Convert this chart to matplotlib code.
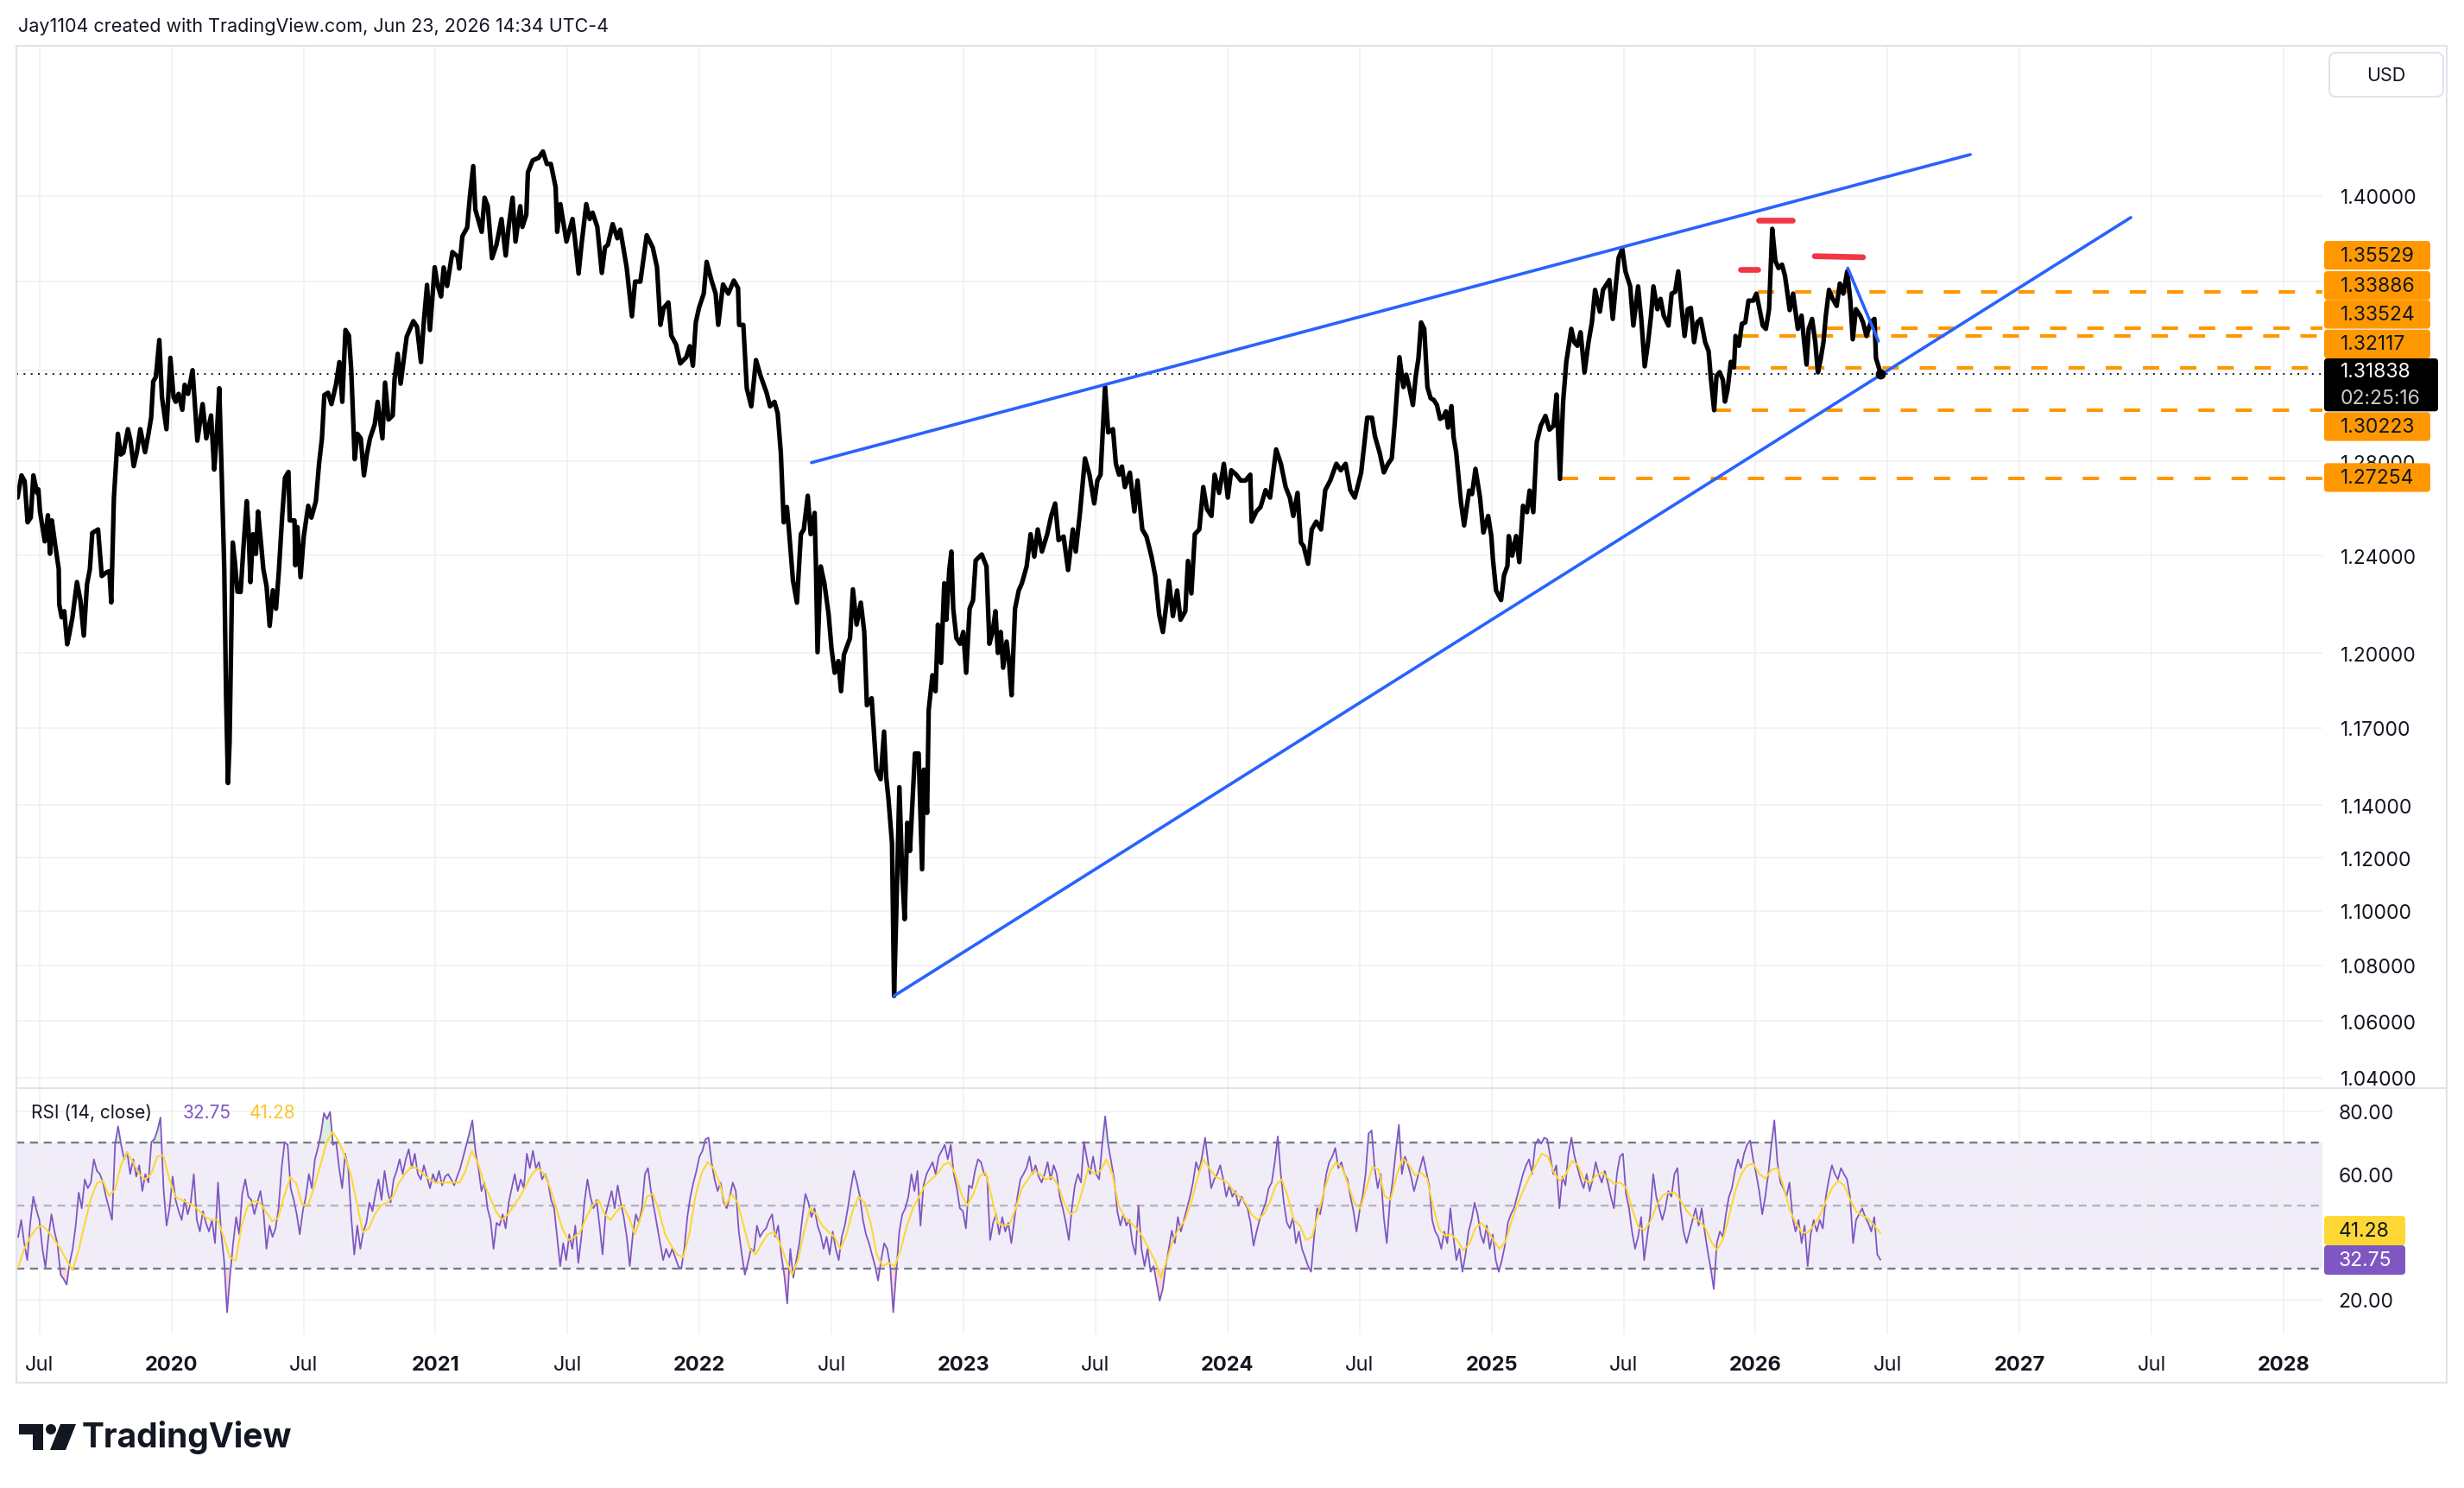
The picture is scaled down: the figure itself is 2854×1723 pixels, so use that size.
import matplotlib
matplotlib.use("Agg")
import matplotlib.pyplot as plt
from matplotlib.patches import FancyBboxPatch, Polygon, Circle, Rectangle
from matplotlib.lines import Line2D
from matplotlib.transforms import IdentityTransform
from matplotlib.ticker import FixedLocator, FixedFormatter, NullLocator, NullFormatter
import numpy as np

plt.rcParams['font.family'] = ['Inter', 'DejaVu Sans']

W, H = 2854, 1724

# ---------------------------------------------------------------------------
# Data (time in decimal years)
# ---------------------------------------------------------------------------
price_t = [
    2019.417, 2019.432, 2019.444, 2019.455, 2019.467, 2019.477, 2019.491, 2019.496, 2019.502, 2019.520,
    2019.532, 2019.540, 2019.547, 2019.559, 2019.573, 2019.575, 2019.584, 2019.594, 2019.605, 2019.612,
    2019.625, 2019.642, 2019.655, 2019.668, 2019.680, 2019.691, 2019.700, 2019.722, 2019.736, 2019.753,
    2019.765, 2019.772, 2019.782, 2019.797, 2019.808, 2019.818, 2019.835, 2019.845, 2019.857, 2019.869,
    2019.882, 2019.900, 2019.913, 2019.923, 2019.931, 2019.941, 2019.954, 2019.964, 2019.981, 2019.996,
    2020.008, 2020.016, 2020.027, 2020.041, 2020.050, 2020.063, 2020.080, 2020.090, 2020.098, 2020.118,
    2020.132, 2020.150, 2020.162, 2020.171, 2020.181, 2020.191, 2020.200, 2020.207, 2020.214, 2020.220,
    2020.232, 2020.240, 2020.250, 2020.262, 2020.273, 2020.285, 2020.292, 2020.299, 2020.309, 2020.320,
    2020.328, 2020.338, 2020.348, 2020.360, 2020.372, 2020.384, 2020.396, 2020.407, 2020.419, 2020.430,
    2020.443, 2020.448, 2020.466, 2020.469, 2020.477, 2020.489, 2020.501, 2020.518, 2020.530, 2020.547,
    2020.559, 2020.570, 2020.579, 2020.593, 2020.606, 2020.623, 2020.636, 2020.647, 2020.659, 2020.672,
    2020.681, 2020.694, 2020.704, 2020.717, 2020.729, 2020.740, 2020.752, 2020.770, 2020.781, 2020.799,
    2020.809, 2020.822, 2020.838, 2020.845, 2020.857, 2020.868, 2020.891, 2020.916, 2020.930, 2020.945,
    2020.956, 2020.968, 2020.979, 2020.997, 2021.008, 2021.021, 2021.031, 2021.044, 2021.064, 2021.084,
    2021.090, 2021.102, 2021.120, 2021.131, 2021.143, 2021.151, 2021.175, 2021.186, 2021.198, 2021.214,
    2021.231, 2021.250, 2021.266, 2021.277, 2021.292, 2021.303, 2021.321, 2021.329, 2021.344, 2021.350,
    2021.368, 2021.391, 2021.407, 2021.422, 2021.437, 2021.455, 2021.461, 2021.473, 2021.496, 2021.519,
    2021.528, 2021.542, 2021.553, 2021.571, 2021.584, 2021.595, 2021.613, 2021.630, 2021.642, 2021.653,
    2021.671, 2021.689, 2021.700, 2021.724, 2021.744, 2021.756, 2021.776, 2021.800, 2021.823, 2021.839,
    2021.852, 2021.864, 2021.882, 2021.893, 2021.911, 2021.927, 2021.950, 2021.963, 2021.975, 2021.986,
    2021.998, 2022.016, 2022.027, 2022.045, 2022.061, 2022.071, 2022.089, 2022.109, 2022.130, 2022.146,
    2022.150, 2022.166, 2022.179, 2022.196, 2022.214, 2022.231, 2022.254, 2022.267, 2022.284, 2022.296,
    2022.308, 2022.319, 2022.331, 2022.340, 2022.354, 2022.369, 2022.384, 2022.395, 2022.410, 2022.421,
    2022.436, 2022.441, 2022.447, 2022.459, 2022.473, 2022.489, 2022.500, 2022.512, 2022.526, 2022.536,
    2022.547, 2022.570, 2022.581, 2022.595, 2022.611, 2022.624, 2022.634, 2022.652, 2022.670, 2022.686,
    2022.699, 2022.707, 2022.716, 2022.729, 2022.737, 2022.745, 2022.757, 2022.768, 2022.777, 2022.787,
    2022.797, 2022.816, 2022.830, 2022.843, 2022.850, 2022.862, 2022.868, 2022.882, 2022.894, 2022.903,
    2022.915, 2022.927, 2022.935, 2022.946, 2022.954, 2022.961, 2022.973, 2022.987, 2022.999, 2023.010,
    2023.023, 2023.036, 2023.046, 2023.069, 2023.087, 2023.098, 2023.110, 2023.121, 2023.130, 2023.141,
    2023.150, 2023.163, 2023.172, 2023.182, 2023.195, 2023.209, 2023.221, 2023.239, 2023.254, 2023.268,
    2023.281, 2023.297, 2023.317, 2023.332, 2023.347, 2023.360, 2023.379, 2023.396, 2023.414, 2023.425,
    2023.441, 2023.460, 2023.477, 2023.495, 2023.507, 2023.519, 2023.536, 2023.548, 2023.566, 2023.577,
    2023.589, 2023.600, 2023.611, 2023.630, 2023.647, 2023.659, 2023.677, 2023.693, 2023.712, 2023.726,
    2023.741, 2023.755, 2023.768, 2023.778, 2023.793, 2023.809, 2023.822, 2023.840, 2023.850, 2023.863,
    2023.876, 2023.893, 2023.908, 2023.922, 2023.939, 2023.951, 2023.968, 2023.986, 2024.001, 2024.014,
    2024.033, 2024.050, 2024.068, 2024.086, 2024.091, 2024.109, 2024.125, 2024.144, 2024.161, 2024.184,
    2024.202, 2024.220, 2024.236, 2024.249, 2024.265, 2024.278, 2024.288, 2024.305, 2024.319, 2024.336,
    2024.354, 2024.370, 2024.389, 2024.412, 2024.429, 2024.447, 2024.465, 2024.482, 2024.506, 2024.529,
    2024.547, 2024.558, 2024.576, 2024.592, 2024.608, 2024.622, 2024.634, 2024.651, 2024.666, 2024.677,
    2024.690, 2024.702, 2024.713, 2024.723, 2024.733, 2024.745, 2024.757, 2024.769, 2024.781, 2024.793,
    2024.805, 2024.817, 2024.827, 2024.835, 2024.848, 2024.856, 2024.866, 2024.884, 2024.896, 2024.915,
    2024.926, 2024.939, 2024.956, 2024.969, 2024.987, 2024.999, 2025.005, 2025.017, 2025.036, 2025.047,
    2025.060, 2025.065, 2025.078, 2025.093, 2025.105, 2025.119, 2025.134, 2025.144, 2025.158, 2025.171,
    2025.186, 2025.204, 2025.219, 2025.235, 2025.246, 2025.259, 2025.271, 2025.283, 2025.302, 2025.313,
    2025.325, 2025.337, 2025.352, 2025.367, 2025.380, 2025.392, 2025.410, 2025.422, 2025.446, 2025.459,
    2025.469, 2025.481, 2025.495, 2025.507, 2025.525, 2025.537, 2025.555, 2025.567, 2025.580, 2025.592,
    2025.604, 2025.613, 2025.628, 2025.640, 2025.652, 2025.670, 2025.682, 2025.695, 2025.707, 2025.719,
    2025.731, 2025.743, 2025.755, 2025.767, 2025.779, 2025.792, 2025.809, 2025.822, 2025.831, 2025.843,
    2025.852, 2025.864, 2025.876, 2025.884, 2025.894, 2025.906, 2025.918, 2025.924, 2025.937, 2025.948,
    2025.961, 2025.973, 2025.991, 2026.003, 2026.015, 2026.027, 2026.039, 2026.051, 2026.063, 2026.075,
    2026.087, 2026.100, 2026.111, 2026.117, 2026.129, 2026.142, 2026.160, 2026.174, 2026.184, 2026.193,
    2026.201, 2026.214, 2026.226, 2026.236, 2026.247, 2026.257, 2026.266, 2026.278, 2026.292, 2026.307,
    2026.319, 2026.332, 2026.347, 2026.359, 2026.368, 2026.380, 2026.396, 2026.407, 2026.420, 2026.436,
    2026.450, 2026.456, 2026.474,
]
price_close = [
    1.2645, 1.2740, 1.2715, 1.2540, 1.2560, 1.2740, 1.2665, 1.2680, 1.2586, 1.2460,
    1.2570, 1.2408, 1.2548, 1.2450, 1.2344, 1.2198, 1.2145, 1.2170, 1.2035, 1.2070,
    1.2145, 1.2290, 1.2215, 1.2070, 1.2280, 1.2344, 1.2495, 1.2510, 1.2315, 1.2330,
    1.2335, 1.2206, 1.2645, 1.2920, 1.2830, 1.2838, 1.2940, 1.2890, 1.2780, 1.2840,
    1.2940, 1.2840, 1.2920, 1.2990, 1.3150, 1.3170, 1.3335, 1.3080, 1.2940, 1.3255,
    1.3080, 1.3060, 1.3095, 1.3025, 1.3135, 1.3095, 1.3200, 1.3025, 1.2890, 1.3050,
    1.2900, 1.3000, 1.2765, 1.2900, 1.3120, 1.2715, 1.2344, 1.1818, 1.1485, 1.1640,
    1.2455, 1.2377, 1.2250, 1.2249, 1.2440, 1.2630, 1.2507, 1.2290, 1.2490, 1.2407,
    1.2586, 1.2467, 1.2344, 1.2274, 1.2110, 1.2256, 1.2180, 1.2340, 1.2560, 1.2730,
    1.2755, 1.2548, 1.2548, 1.2360, 1.2520, 1.2310, 1.2480, 1.2610, 1.2560, 1.2630,
    1.2790, 1.2900, 1.3090, 1.3100, 1.3050, 1.3135, 1.3236, 1.3060, 1.3380, 1.3355,
    1.3200, 1.2810, 1.2920, 1.2900, 1.2740, 1.2830, 1.2900, 1.2962, 1.3060, 1.2900,
    1.3145, 1.2982, 1.3000, 1.3160, 1.3273, 1.3140, 1.3350, 1.3420, 1.3395, 1.3236,
    1.3420, 1.3585, 1.3380, 1.3666, 1.3585, 1.3532, 1.3665, 1.3580, 1.3736, 1.3715,
    1.3660, 1.3810, 1.3850, 1.4005, 1.4140, 1.3934, 1.3830, 1.3990, 1.3950, 1.3708,
    1.3770, 1.3890, 1.3720, 1.3853, 1.3990, 1.3785, 1.3950, 1.3853, 1.3910, 1.4110,
    1.4167, 1.4180, 1.4210, 1.4150, 1.4150, 1.4040, 1.3830, 1.3960, 1.3785, 1.3890,
    1.3800, 1.3637, 1.3770, 1.3960, 1.3890, 1.3920, 1.3853, 1.3640, 1.3758, 1.3770,
    1.3866, 1.3800, 1.3840, 1.3666, 1.3442, 1.3600, 1.3600, 1.3814, 1.3757, 1.3666,
    1.3403, 1.3479, 1.3505, 1.3355, 1.3315, 1.3230, 1.3258, 1.3307, 1.3220, 1.3415,
    1.3480, 1.3545, 1.3691, 1.3607, 1.3545, 1.3403, 1.3587, 1.3545, 1.3605, 1.3570,
    1.3403, 1.3403, 1.3120, 1.3040, 1.3245, 1.3176, 1.3100, 1.3040, 1.3060, 1.3010,
    1.2838, 1.2540, 1.2605, 1.2490, 1.2296, 1.2205, 1.2490, 1.2510, 1.2653, 1.2490,
    1.2580, 1.2355, 1.2003, 1.2355, 1.2285, 1.2156, 1.2017, 1.1920, 1.1967, 1.1846,
    1.1993, 1.2060, 1.2260, 1.2115, 1.2205, 1.2085, 1.1790, 1.1818, 1.1537, 1.1500,
    1.1686, 1.1510, 1.1420, 1.1255, 1.0690, 1.0985, 1.1469, 1.1134, 1.0970, 1.1332,
    1.1225, 1.1600, 1.1600, 1.1156, 1.1537, 1.1370, 1.1770, 1.1910, 1.1846, 1.2115,
    1.1960, 1.2285, 1.2135, 1.2340, 1.2417, 1.2180, 1.2060, 1.2037, 1.2085, 1.1920,
    1.2180, 1.2215, 1.2380, 1.2405, 1.2355, 1.2037, 1.2085, 1.2170, 1.2000, 1.2085,
    1.1940, 1.2046, 1.1967, 1.1830, 1.2180, 1.2255, 1.2285, 1.2355, 1.2490, 1.2396,
    1.2510, 1.2417, 1.2490, 1.2567, 1.2620, 1.2465, 1.2480, 1.2340, 1.2510, 1.2417,
    1.2580, 1.2813, 1.2743, 1.2620, 1.2718, 1.2743, 1.3128, 1.2926, 1.2940, 1.2790,
    1.2743, 1.2778, 1.2690, 1.2752, 1.2586, 1.2718, 1.2510, 1.2480, 1.2396, 1.2316,
    1.2156, 1.2085, 1.2196, 1.2296, 1.2150, 1.2255, 1.2135, 1.2170, 1.2378, 1.2243,
    1.2490, 1.2510, 1.2690, 1.2596, 1.2567, 1.2743, 1.2665, 1.2790, 1.2645, 1.2762,
    1.2743, 1.2718, 1.2718, 1.2743, 1.2543, 1.2586, 1.2605, 1.2677, 1.2645, 1.2852,
    1.2790, 1.2690, 1.2645, 1.2567, 1.2665, 1.2454, 1.2440, 1.2366, 1.2510, 1.2543,
    1.2510, 1.2677, 1.2718, 1.2790, 1.2762, 1.2790, 1.2677, 1.2645, 1.2752, 1.2990,
    1.2990, 1.2910, 1.2838, 1.2753, 1.2790, 1.2813, 1.2978, 1.3258, 1.3125, 1.3180,
    1.3115, 1.3046, 1.3175, 1.3253, 1.3414, 1.3385, 1.3125, 1.3076, 1.3068, 1.3046,
    1.2985, 1.2993, 1.3018, 1.2947, 1.3041, 1.2906, 1.2838, 1.2625, 1.2527, 1.2675,
    1.2660, 1.2768, 1.2647, 1.2497, 1.2567, 1.2482, 1.2386, 1.2255, 1.2216, 1.2318,
    1.2357, 1.2482, 1.2400, 1.2482, 1.2373, 1.2610, 1.2583, 1.2675, 1.2583, 1.2883,
    1.2955, 1.2998, 1.2938, 1.2955, 1.3092, 1.2725, 1.3061, 1.3237, 1.3385, 1.3325,
    1.3309, 1.3370, 1.3190, 1.3325, 1.3414, 1.3562, 1.3463, 1.3562, 1.3607, 1.3430,
    1.3562, 1.3709, 1.3752, 1.3647, 1.3578, 1.3400, 1.3578, 1.3430, 1.3217, 1.3317,
    1.3445, 1.3578, 1.3474, 1.3521, 1.3445, 1.3400, 1.3545, 1.3553, 1.3647, 1.3489,
    1.3353, 1.3474, 1.3480, 1.3325, 1.3414, 1.3430, 1.3325, 1.3285, 1.3157, 1.3023,
    1.3175, 1.3191, 1.3157, 1.3061, 1.3115, 1.3237, 1.3212, 1.3353, 1.3309, 1.3408,
    1.3414, 1.3513, 1.3513, 1.3545, 1.3474, 1.3400, 1.3385, 1.3474, 1.3844, 1.3694,
    1.3662, 1.3678, 1.3628, 1.3578, 1.3470, 1.3545, 1.3385, 1.3445, 1.3325, 1.3225,
    1.3385, 1.3430, 1.3325, 1.3190, 1.3253, 1.3325, 1.3445, 1.3562, 1.3521, 1.3489,
    1.3591, 1.3545, 1.3647, 1.3513, 1.3338, 1.3474, 1.3445, 1.3414, 1.3353, 1.3414,
    1.3430, 1.3253, 1.31838,
]

# RSI(14) and its moving average, sampled evenly from the first to the last bar
rsi_start, rsi_end = 2019.4194, 2026.4724
rsi_values = [
    40, 45.4, 38, 32.6, 44.5, 52.8, 48.6, 45.4, 36.2, 30.3,
    40, 47.2, 41.7, 37.6, 28, 26.6, 24.8, 31.7, 36.2, 43.6,
    54.1, 49.1, 58.3, 55.5, 57.3, 64.7, 61, 60, 57.3, 52.8,
    49.1, 45.4, 69.3, 75.2, 69.3, 64.7, 67, 60, 64.7, 59.2,
    62.8, 54.6, 60, 57.3, 70.2, 71.1, 73.9, 78, 55.5, 43.6,
    49.1, 59.2, 51.8, 48.2, 45.4, 51.8, 47.2, 50.9, 60, 45.4,
    41.7, 48.2, 44.5, 41.7, 45.4, 38, 57.3, 41.7, 32.6, 16,
    28, 38, 46.3, 40.8, 53.7, 58.3, 52.8, 51.8, 47.2, 50.9,
    54.6, 48.2, 36.2, 43.6, 40, 42.7, 49.1, 61.9, 70.2, 69.3,
    55.5, 51.8, 47.2, 40.8, 48.2, 52.8, 60, 55.5, 64.7, 68.3,
    72.9, 79.4, 77.5, 79.8, 69.3, 70.2, 61.9, 55.5, 66.5, 61.9,
    46.3, 34.4, 43.6, 36.2, 41.7, 44.5, 50.9, 48.2, 53.7, 58.3,
    51.8, 61, 54.6, 50.9, 58.3, 61, 64.7, 60, 64.7, 67.9,
    61.9, 66.5, 60, 58.3, 62.8, 59.2, 55.5, 60, 57.3, 61,
    56.4, 59.2, 60, 58.3, 56.4, 59.2, 61.9, 65.6, 69.3, 72.9,
    77.1, 67.4, 61.9, 54.6, 57.3, 49.1, 45.4, 36.2, 44.5, 43.6,
    47.2, 42.7, 50.9, 55.5, 60, 54.6, 58.3, 55.5, 66.5, 61.9,
    67.4, 61.9, 63.8, 58.3, 60, 57.3, 51.8, 49.1, 40, 30.7,
    38, 32.6, 40.8, 36.2, 43.6, 31.7, 40, 50.9, 58.3, 52.8,
    49.1, 51.8, 43.6, 34.4, 47.2, 50.9, 54.6, 49.1, 56.4, 50.9,
    46.3, 40, 30.7, 40.8, 47.2, 44.5, 49.1, 60, 61.9, 54.6,
    49.1, 43.6, 38, 32.6, 36.2, 33.5, 36.2, 33.5, 30.7, 29.8,
    36.2, 46.3, 52.8, 57.3, 61, 65.6, 67.4, 71.1, 71.6, 63.8,
    58.3, 54.6, 57.3, 50.9, 49.1, 52.8, 57.3, 54.6, 41.7, 34.4,
    28, 31.7, 36.2, 35.3, 43.6, 40, 41.7, 42.7, 45.4, 47.2,
    40, 43.6, 34.4, 28, 18.8, 36.2, 27, 32.6, 38, 46.3,
    53.7, 50.9, 46.3, 49.1, 43.6, 40.8, 36.2, 40, 34.4, 41.7,
    36.2, 32.6, 40, 43.6, 49.1, 55.5, 61, 57.3, 52.8, 45.4,
    40.8, 38, 34.4, 30.7, 26.1, 32.6, 38, 36.2, 30.7, 16,
    28.9, 41.7, 47.2, 49.1, 52.8, 60, 54.6, 61, 43.6, 56.4,
    60, 61.9, 63.8, 60, 65.6, 67.4, 69.3, 64.7,
    69.3, 60, 55.5, 49.1, 48.2, 42.7, 56.4, 55.5, 61, 64.7,
    63.8, 60, 59.2, 39, 44.5, 47.2, 40.8, 46.3, 41.7, 44.5,
    38, 45.4, 52.8, 58.3, 60, 61.9, 65.6, 60, 62.8, 59.2,
    57.3, 60, 63.8, 58.3, 62.8, 60, 52.8, 49.1, 44.5, 39,
    49.1, 56.4, 60, 57.3, 70.2, 64.7, 60, 65.6, 60, 58.3,
    69.3, 78.4, 69.3, 63.8, 58.3, 48.2, 43.6, 47.2, 43.6, 45.4,
    38, 34.4, 49.9, 36.2, 30.7, 36.2, 28.9, 30.7, 25.2, 19.7,
    23.4, 30.7, 36.2, 42, 38, 46.3, 41.7, 45.4, 49.1, 52.8,
    57.3, 63.8, 61, 65.6, 71.6, 63.8, 55.5, 58.3, 60, 62.8,
    58.3, 52.8, 56.4, 52.8, 54.6, 49.9, 52.8, 50.9, 49.1, 44.5,
    37.2, 41.7, 45.4, 48.2, 50.9, 55.5, 57.3, 63.8, 72, 60,
    50.9, 44.5, 42.7, 46.3, 38, 41.7, 36.2, 33.5, 30.7, 28.9,
    40, 49.1, 47.2, 52.8, 60, 63.8, 65.6, 68.3, 61.9, 63.8,
    60, 58.3, 52.8, 48.2, 41.7, 48.2, 52.8, 60, 72.9, 73.9,
    61.9, 55.5, 60, 46.3, 38, 50.9, 58.3, 67.4, 75.7, 60,
    65.6, 62.8, 59.2, 54.6, 58.3, 61.9, 65.6, 61, 56.4, 45.4,
    41.7, 40, 36.2, 41.7, 38, 49.1, 40, 32.6, 36.2, 28.9,
    34.4, 41.7, 45.4, 50.9, 47.2, 40.8, 38, 43.6, 36.2, 40.8,
    32.6, 28.9, 32.6, 37.2, 44.5, 47.2, 49.1, 52.8, 56.4, 60,
    62.8, 64.7, 60, 69.3, 71.1, 69.7, 71.6, 71.1, 65.6, 60,
    62.8, 49.1, 59.2, 56.4, 66.5, 71.6, 65.6, 61.9, 58.3, 55.5,
    60, 54.6, 58.3, 63.8, 60, 57.3, 61, 57.3, 52.8, 49.1,
    60, 65.6, 66.5, 53.7, 49.1, 41.7, 36.2, 40, 46.3, 32.6,
    40, 47.2, 60, 52.8, 49.1, 45.4, 49.1, 54.6, 52.8, 60,
    61.9, 49.1, 41.7, 38, 41.7, 45.4, 49.1, 43.6, 49.1, 41.7,
    35.3, 29.8, 23.4, 38, 41.7, 40, 47.2, 52.8, 55.5, 61,
    64.7, 61.9, 66.5, 69.3, 70.7, 64.7, 60, 54.6, 47.2, 52.8,
    60, 69.3, 77.1, 63.8, 57.3, 55.5, 52.8, 57.3, 46.3, 41.7,
    45.4, 38, 43.6, 30.7, 40.8, 45.4, 41.7, 45.4, 42.7, 52.8,
    58.3, 62.8, 60, 58.3, 61.9, 60, 58.3, 52.8, 38, 45.4,
    47.2, 49.1, 46.3, 44.5, 41.7, 46.3, 34.4, 32.75,
]
rsi_ma = [
    30.3, 36.2, 40, 42.7, 43.6, 41.7, 39, 36.2, 32.6, 29.4,
    35.8, 44, 52, 57, 58, 53, 55, 62.8, 67, 63.8,
    60, 58.3, 60, 65.6, 66, 58.3, 52.8, 51.8, 50.9, 50,
    48.2, 46.3, 45.4, 45.4, 40, 33.5, 32.5, 44, 50, 51.4,
    50.8, 48, 45, 46, 53, 59, 57, 50, 50.5, 56,
    63, 70, 73.4, 70.5, 66, 60, 51, 41.5, 42.7, 47.2,
    50, 50.9, 52.8, 57.3, 60, 62.3, 61.9, 60, 58.3, 57.3,
    57.3, 57.3, 57.3, 57.3, 61, 67.4, 63.8, 57.3, 52.8, 48.2,
    45.4, 47.2, 50, 52.8, 56.4, 60, 61.9, 60, 55.5, 49.1,
    42.7, 39, 40, 41.7, 46.3, 50, 51.8, 47.2, 45.4, 48.2,
    50, 46.3, 40.8, 46.3, 52.8, 53.7, 48.2, 40.8, 37.2, 34.4,
    33.5, 40.8, 52.8, 60, 63.8, 61.9, 57.3, 50, 53.7, 50.9,
    43.6, 36.2, 34.4, 38, 40.8, 41.7, 38, 32.6, 28, 32.6,
    41.7, 49.1, 47.2, 43.6, 41.7, 40, 36.2, 40.8, 48.2, 52.8,
    50.9, 44.5, 34.4, 30.7, 31.7, 30.7, 36.2, 43.6, 49.1, 52.8,
    56.4, 58.3, 60, 62.8,
    63.8, 60, 53.7, 50, 53.7, 59.2, 60.6, 52.8, 44.5, 43.6,
    44, 49.1, 55.5, 58.3, 61, 60, 58.3, 59.2, 56.4, 50.9,
    47.2, 48.2, 54.6, 61.9, 60, 61, 64.7, 60, 50, 46.3,
    44.5, 42.7, 40, 36.2, 32.6, 27.1, 32.6, 39, 42.7, 45.4,
    50.9, 58.3, 64.7, 61.9, 59.2, 58.3, 57.3, 54.6, 52.8, 50.9,
    47.2, 45.4, 47.2, 50.9, 56.4, 58.3, 52.8, 45.4, 43.6, 39,
    40, 47.2, 54.6, 61, 63.8, 61.9, 56.4, 50.9, 49, 55.5,
    62.3, 61.5, 53, 51.8, 59.6, 65, 63.2, 59.6, 60.5, 58.7,
    50, 42.6, 40.4, 40.8, 39, 35.8, 37.6, 42.7, 44.5, 42.2,
    39, 36.2, 38.5, 45, 50.5, 55, 59.2, 62.8, 66.5, 65.5,
    60.5, 57.8, 60, 64.2, 62.8, 58.2, 57.3, 59.6, 60.5, 58.6,
    56.8, 57.3, 55.5, 48.6, 43, 42.2, 45, 50, 53.2, 54.1,
    54.1, 51.4, 48.2, 46.3, 45, 43.1, 38.5, 35.8, 39.4, 46.8,
    54.6, 60, 62.8, 63.3, 60, 58.6, 61.4, 61.9, 56, 48.6,
    44.5, 41.4, 41.4, 43.6, 46.8, 51.4, 55.5, 57.8, 56.4, 51.8,
    48.2, 46.8, 45.8, 43.6, 41.28,
]

# Drawings on the chart
upper_trend_t, upper_trend_p = [2022.424, 2026.813], [1.2795, 1.4195]
lower_trend_t, lower_trend_p = [2022.737, 2027.421], [1.0690, 1.3897]
short_trend_t, short_trend_p = [2026.349, 2026.465], [1.3662, 1.3330]
level_start = [2026.009, 2026.270, 2025.948, 2025.917, 2025.845, 2025.265]
level_price = [1.35529, 1.33886, 1.33524, 1.32117, 1.30223, 1.27254]
red_t = [(2025.943, 2026.009), (2026.012, 2026.140), (2026.224, 2026.407)]
red_p = [(1.3655, 1.3655), (1.3886, 1.3886), (1.3717, 1.3712)]

price_ticks = [1.04, 1.06, 1.08, 1.10, 1.12, 1.14, 1.17, 1.20, 1.24, 1.28, 1.32, 1.36, 1.40]
# 1.32 / 1.36 sit under the price labels on the scale, so they carry no text
price_tick_labels = ['1.04000', '1.06000', '1.08000', '1.10000', '1.12000', '1.14000',
                     '1.17000', '1.20000', '1.24000', '1.28000', '', '', '1.40000']
rsi_ticks = [20, 40, 60, 80]
rsi_tick_labels = ['20.00', '', '60.00', '80.00']
x_tick_pos = [2019.5 + 0.5 * i for i in range(18)]
x_tick_labels = ['Jul', '2020', 'Jul', '2021', 'Jul', '2022', 'Jul', '2023', 'Jul',
                 '2024', 'Jul', '2025', 'Jul', '2026', 'Jul', '2027', 'Jul', '2028']

last_price = price_close[-1]

TEXT = '#131722'
GRID = '#f0f0f0'
BLUE = '#2962ff'
ORANGE = '#ff9800'
PURPLE = '#7e57c2'
YELLOW = '#fdd835'
XMIN, XMAX = 2019.4127, 2028.1468


def fx(x):
    return x / W


def fy(y):
    return 1 - y / H


fig = plt.figure(figsize=(W / 100, H / 100), dpi=100)
fig.patch.set_facecolor('white')

ax = fig.add_axes([fx(19), fy(1261), fx(2690) - fx(19), fy(54) - fy(1261)])
rsi_ax = fig.add_axes([fx(19), fy(1546), fx(2690) - fx(19), fy(1261) - fy(1546)])

for a in (ax, rsi_ax):
    for s in a.spines.values():
        s.set_visible(False)
    a.set_xlim(XMIN, XMAX)
    a.set_xticks(x_tick_pos)
    a.grid(True, color=GRID, lw=1.1)
    a.set_axisbelow(True)
    a.yaxis.tick_right()

# ---- Price pane ------------------------------------------------------------
ax.set_yscale('log')
ax.set_ylim(1.03625, 1.47253)
ax.yaxis.set_major_locator(FixedLocator(price_ticks))
ax.yaxis.set_major_formatter(FixedFormatter(price_tick_labels))
ax.yaxis.set_minor_locator(NullLocator())
ax.yaxis.set_minor_formatter(NullFormatter())
ax.tick_params(axis='y', length=0, pad=15, labelsize=16.5, labelcolor=TEXT)
ax.tick_params(axis='x', length=0, labelbottom=False)

ax.axhline(last_price, color=TEXT, lw=1.4, dashes=(1, 3.3), zorder=2)

for start, level in zip(level_start, level_price):
    ax.plot([start, XMAX], [level, level], color=ORANGE, lw=2.9,
            dashes=(4.7, 6.0), dash_capstyle='butt', zorder=3)

ax.plot(price_t, price_close, color='black', lw=3.8,
        solid_joinstyle='round', solid_capstyle='round', zorder=4)

for tt, pp in ((upper_trend_t, upper_trend_p), (lower_trend_t, lower_trend_p),
               (short_trend_t, short_trend_p)):
    ax.plot(tt, pp, color=BLUE, lw=2.6, solid_capstyle='round', zorder=5)

for tt, pp in zip(red_t, red_p):
    ax.plot(tt, pp, color='#f23645', lw=4.8, solid_capstyle='round', zorder=6)

ax.plot(price_t[-1], last_price, 'o', ms=7.5, color='black', zorder=7)

# ---- RSI pane --------------------------------------------------------------
rsi_t = np.linspace(rsi_start, rsi_end, len(rsi_values))
ma_t = np.linspace(rsi_start, rsi_end, len(rsi_ma))
rsi_arr = np.array(rsi_values)

rsi_ax.set_ylim(9.0, 87.35)
rsi_ax.axhspan(30, 70, color=PURPLE, alpha=0.1, lw=0, zorder=0)
rsi_ax.fill_between(rsi_t, rsi_arr, 70, where=rsi_arr > 70, interpolate=True,
                    color='#4caf50', alpha=0.2, lw=0)
rsi_ax.fill_between(rsi_t, rsi_arr, 30, where=rsi_arr < 30, interpolate=True,
                    color='#f23645', alpha=0.2, lw=0)
for lvl, alpha in ((70, 1.0), (50, 0.5), (30, 1.0)):
    rsi_ax.axhline(lvl, color='#787b86', alpha=alpha, lw=1.7,
                   dashes=(3.9, 2.8), zorder=1)
rsi_ax.plot(rsi_t, rsi_values, color=PURPLE, lw=1.3, zorder=3)
rsi_ax.plot(ma_t, rsi_ma, color=YELLOW, lw=1.5, zorder=4)

rsi_ax.set_yticks(rsi_ticks)
rsi_ax.set_yticklabels(rsi_tick_labels)
rsi_ax.tick_params(axis='y', length=0, pad=13.5, labelsize=16.5, labelcolor=TEXT)
rsi_ax.set_xticklabels(x_tick_labels)
rsi_ax.tick_params(axis='x', length=0, pad=17, labelsize=17, labelcolor=TEXT)
for lbl in rsi_ax.get_xticklabels():
    if lbl.get_text() != 'Jul':
        lbl.set_fontweight('bold')

# ---- Frame, labels and decorations -----------------------------------------
fig.add_artist(Rectangle((fx(19), fy(1602)), fx(2834) - fx(19), fy(54) - fy(1602),
                         transform=fig.transFigure, fill=False,
                         edgecolor='#e0e3eb', lw=1.5))
fig.add_artist(Line2D([fx(19), fx(2834)], [fy(1261), fy(1261)],
                      transform=fig.transFigure, color='#e0e3eb', lw=1.5))

fig.text(fx(21), fy(31), 'Jay1104 created with TradingView.com, Jun 23, 2026 14:34 UTC-4',
         fontsize=15.5, color=TEXT, va='center', ha='left')


def label_box(x, y_top, w, h, face, text_lines, text_colors, text_x=2711):
    fig.add_artist(FancyBboxPatch((x, H - y_top - h), w, h,
                                  boxstyle='round,pad=0,rounding_size=4',
                                  transform=IdentityTransform(),
                                  facecolor=face, edgecolor='none', zorder=10))
    n = len(text_lines)
    for i, (txt, col) in enumerate(zip(text_lines, text_colors)):
        yc = y_top + h * (i + 0.5) / n
        fig.text(fx(text_x), fy(yc), txt, fontsize=16.5, color=col,
                 va='center', ha='left', zorder=11)


fig.add_artist(FancyBboxPatch((2698, H - 113), 132, 51,
                              boxstyle='round,pad=0,rounding_size=8',
                              transform=IdentityTransform(),
                              facecolor='white', edgecolor='#e0e3eb', lw=1.5))
fig.text(fx(2764), fy(88), 'USD', fontsize=15.5, color=TEXT, ha='center', va='center')

level_label_tops = [280, 315, 348.3, 382.7, 478.3, 537.3]
for lvl, top in zip(level_price, level_label_tops):
    label_box(2692, top, 123, 33.3, ORANGE, [f'{lvl:.5f}'], [TEXT])
label_box(2692, 416, 132, 61.3, '#000000', [f'{last_price:.5f}', '02:25:16'],
          ['white', '#c9cbd1'])

label_box(2692, 1409, 94, 34, YELLOW, [f'{rsi_ma[-1]:.2f}'], [TEXT], text_x=2709)
label_box(2692, 1443, 94, 34, PURPLE, [f'{rsi_values[-1]:.2f}'], ['white'], text_x=2709)

fig.text(fx(36.5), fy(1289), 'RSI (14, close)', fontsize=15, color=TEXT, va='center')
fig.text(fx(212), fy(1289), f'{rsi_values[-1]:.2f}', fontsize=15, color=PURPLE, va='center')
fig.text(fx(289), fy(1289), f'{rsi_ma[-1]:.2f}', fontsize=15, color='#f7c928', va='center')

# TradingView logo
logo = [
    Polygon([(22, H - 1650), (50, H - 1650), (50, H - 1680), (38, H - 1680),
             (38, H - 1662), (22, H - 1662)], closed=True),
    Circle((59, H - 1656), 6),
    Polygon([(70, H - 1650), (88, H - 1650), (76, H - 1680), (58, H - 1680)], closed=True),
]
for patch in logo:
    patch.set_transform(IdentityTransform())
    patch.set_facecolor(TEXT)
    patch.set_edgecolor('none')
    fig.add_artist(patch)
fig.text(fx(95), fy(1665), 'TradingView', fontsize=28, fontweight='bold',
         color=TEXT, va='center', ha='left')

fig.savefig('out.png', dpi=100, facecolor='white')
